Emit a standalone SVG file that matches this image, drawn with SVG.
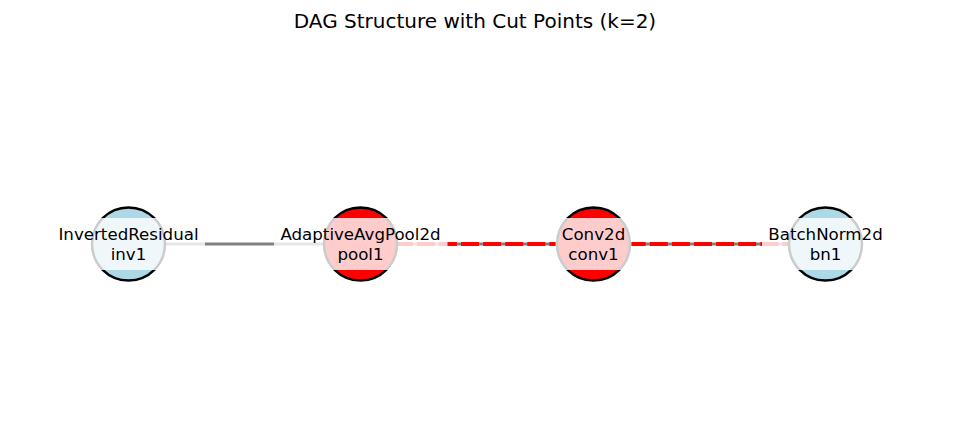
<svg xmlns="http://www.w3.org/2000/svg" width="953" height="441" viewBox="0 0 953 441">
<style>
text{font-family:"DejaVu Sans","Liberation Sans",sans-serif;fill:#000}
.title{font-size:20px;text-anchor:middle}
.lbl{font-size:16.67px;text-anchor:middle}
.node{stroke:#000;stroke-width:2.5}
.box{fill:#fff;fill-opacity:0.8;stroke:none}
.e{stroke:#808080;stroke-width:2.8;fill:none}
.cut{stroke:#ff0000;stroke-width:4.2;stroke-dasharray:18 4.1;stroke-dashoffset:10;fill:none}
</style>
<rect width="953" height="441" fill="#fff"/>
<text class="title" x="475" y="28">DAG Structure with Cut Points (k=2)</text>
<g id="connectors">
<line class="e" x1="128.5" y1="244" x2="360.5" y2="244"/>
<line class="e" x1="360.5" y1="244" x2="593.5" y2="244"/>
<line class="e" x1="593.5" y1="244" x2="825.5" y2="244"/>
<line class="cut" x1="360.5" y1="244" x2="593.5" y2="244"/>
<line class="cut" x1="593.5" y1="244" x2="825.5" y2="244"/>
</g>
<g id="inv1">
<circle class="node" cx="128.5" cy="244" r="36.5" fill="#add8e6"/>
</g>
<g id="pool1">
<circle class="node" cx="360.5" cy="244" r="36.5" fill="#ff0000"/>
</g>
<g id="conv1">
<circle class="node" cx="593.5" cy="244" r="36.5" fill="#ff0000"/>
</g>
<g id="bn1">
<circle class="node" cx="825.5" cy="244" r="36.5" fill="#add8e6"/>
</g>
<g id="labels">
<rect class="box" x="52" y="218" width="153" height="52"/>
<text class="lbl" x="128.5" y="240">InvertedResidual</text>
<text class="lbl" x="128.5" y="260">inv1</text>
<rect class="box" x="274" y="218" width="173.5" height="52"/>
<text class="lbl" x="360.5" y="240">AdaptiveAvgPool2d</text>
<text class="lbl" x="360.5" y="260">pool1</text>
<rect class="box" x="555.5" y="218" width="76" height="52"/>
<text class="lbl" x="593.5" y="240">Conv2d</text>
<text class="lbl" x="593.5" y="260">conv1</text>
<rect class="box" x="762" y="218" width="127" height="52"/>
<text class="lbl" x="825.5" y="240">BatchNorm2d</text>
<text class="lbl" x="825.5" y="260">bn1</text>
</g>
</svg>
